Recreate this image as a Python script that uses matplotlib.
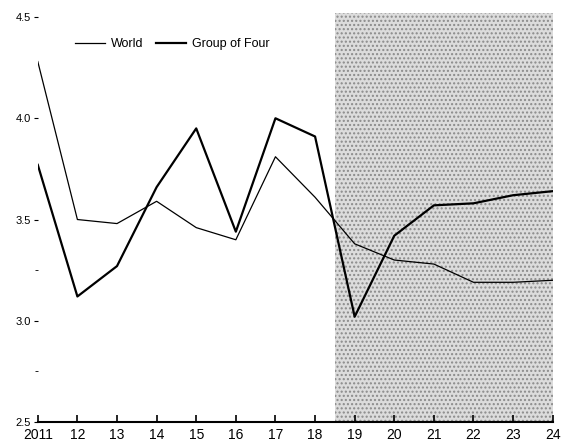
import numpy as np
import matplotlib.pyplot as plt

# data
years = list(range(2011, 2025))
world = [4.28, 3.50, 3.48, 3.59, 3.46, 3.40, 3.81, 3.61, 3.38, 3.30, 3.28, 3.19, 3.19, 3.20]
group_of_four = [3.77, 3.12, 3.27, 3.66, 3.95, 3.44, 4.00, 3.91, 3.02, 3.42, 3.57, 3.58, 3.62, 3.64]
xlabels = ["2011", "12", "13", "14", "15", "16", "17", "18", "19", "20", "21", "22", "23", "24"]
yticks = [2.5, 3.0, 3.5, 4.0, 4.5]
forecast_start = 2018.5

plt.rcParams["font.family"] = ["Liberation Sans", "DejaVu Sans"]

fig = plt.figure(figsize=(5.64, 4.48), dpi=100)
ax = fig.add_axes([0.067, 0.058, 0.913, 0.904])

# shaded forecast region
ax.axvspan(forecast_start, years[-1], ymax=1.01, facecolor="#dcdcdc", edgecolor="#8a8a8a",
           hatch="....", linewidth=0, zorder=0, clip_on=False)

ax.plot(years, world, color="black", linewidth=0.9, label="World", zorder=3)
ax.plot(years, group_of_four, color="black", linewidth=1.6, label="Group of Four", zorder=3)

ax.set_xlim(years[0], years[-1])
ax.set_ylim(2.5, 4.5)
ax.set_xticks(years)
ax.set_xticklabels(xlabels, fontsize=10)
ax.set_yticks(yticks)
ax.set_yticklabels(["%.1f" % v for v in yticks], fontsize=8)
ax.set_yticks([2.75, 3.25], minor=True)

for s in ["top", "left", "right"]:
    ax.spines[s].set_visible(False)
ax.spines["bottom"].set_linewidth(1.5)
ax.tick_params(axis="x", direction="in", length=5, width=1.2, pad=4)
ax.tick_params(axis="y", direction="out", length=3, width=0.8, pad=2)
ax.tick_params(axis="y", which="minor", length=2)

ax.legend(loc="upper left", bbox_to_anchor=(0.05, 0.975), ncol=2, frameon=False,
          fontsize=9, handlelength=2.4, columnspacing=1.0, handletextpad=0.5)

plt.savefig("out.png", dpi=100)
